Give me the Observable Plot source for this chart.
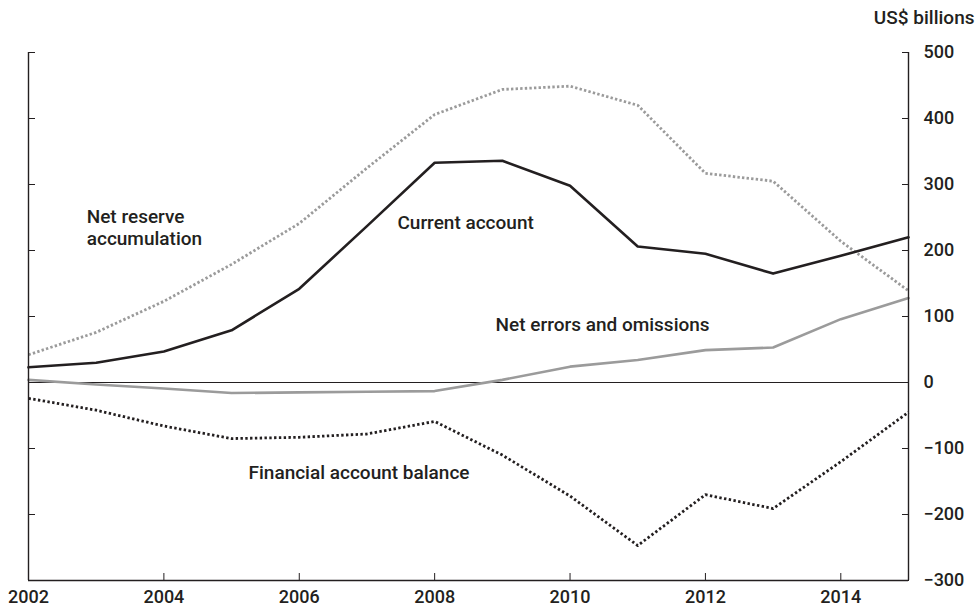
<!DOCTYPE html>
<html><head><meta charset="utf-8">
<script src="https://cdn.jsdelivr.net/npm/d3@7"></script>
<script src="https://cdn.jsdelivr.net/npm/@observablehq/plot@0.6"></script>
<style>body{margin:0;background:#fff;} svg{font-family:Roboto,"Liberation Sans",sans-serif;}</style>
</head><body><div id="chart"></div>
<script>
const years = [2002,2003,2004,2005,2006,2007,2008,2009,2010,2011,2012,2013,2014,2015];
const currentAccount = [23,30,47,79,142,237,333,336,298,206,195,165,192,220];
const netReserve = [42,76,123,179,241,325,406,444,449,420,317,305,214,139];
const netErrors = [4,-3,-9,-16,-15,-14,-13,4,24,34,49,53,96,128];
const financialAccount = [-24,-42,-66,-85,-83,-78,-59,-110,-172,-247,-170,-191,-120,-45];
const yTicks = [-300,-200,-100,0,100,200,300,400,500];
const xLabelTicks = [2002,2004,2006,2008,2010,2012,2014];
const xInnerTicks = [2004,2006,2008,2010,2012,2014];
const seriesLabels = [
  {name:"Net reserve\naccumulation", year:2002.86, value:265},
  {name:"Current account", year:2007.45, value:256},
  {name:"Net errors and omissions", year:2008.9, value:101},
  {name:"Financial account balance", year:2005.25, value:-123}
];
const rows = (vals) => years.map((y,i)=>({year:y, value:vals[i]}));
const ink = "#231f20";
const chart = Plot.plot({
  width:975, height:612,
  marginLeft:28, marginRight:67, marginTop:52, marginBottom:32,
  x:{domain:[2002,2015]},
  y:{domain:[-300,500]},
  style:{fontFamily:"Roboto, sans-serif", fontSize:"18px", color:ink},
  marks:[
    Plot.ruleY([0], {stroke:ink, strokeWidth:1}),
    Plot.line(rows(netReserve), {x:"year", y:"value", stroke:"#9b9b9b", strokeWidth:2.8, strokeDasharray:"2.4,2.2", strokeLinecap:"butt"}),
    Plot.line(rows(netErrors), {x:"year", y:"value", stroke:"#9b9b9b", strokeWidth:2.6}),
    Plot.line(rows(financialAccount), {x:"year", y:"value", stroke:ink, strokeWidth:2.8, strokeDasharray:"2.4,2.4", strokeLinecap:"butt"}),
    Plot.line(rows(currentAccount), {x:"year", y:"value", stroke:ink, strokeWidth:2.6}),
    Plot.ruleX([2002, 2015], {stroke:ink, strokeWidth:1.4}),
    Plot.ruleY([-300], {stroke:ink, strokeWidth:1.4}),
    Plot.axisY(yTicks, {anchor:"right", tickSize:-7, tickPadding:22, fontSize:18, fontWeight:500, stroke:ink, fill:ink, label:null}),
    Plot.axisY(yTicks, {anchor:"left", tickSize:-7, tickFormat:()=>"", stroke:ink, label:null}),
    Plot.axisX(xInnerTicks, {anchor:"bottom", tickSize:-7, tickFormat:()=>"", stroke:ink, label:null}),
    Plot.axisX(xLabelTicks, {anchor:"bottom", tickSize:0, tickPadding:10, fontSize:18, fontWeight:500, fill:ink, tickFormat:d=>String(d), label:null}),
    Plot.text(["US$ billions"], {frameAnchor:"top-right", dx:66, dy:-42, textAnchor:"end", fontSize:19, fontWeight:500, fill:ink}),
    Plot.text(seriesLabels, {x:"year", y:"value", text:"name", textAnchor:"start", lineAnchor:"top", lineHeight:1.16, fontSize:19, fontWeight:500, fill:ink})
  ]
});
document.getElementById("chart").appendChild(chart);
</script></body></html>
